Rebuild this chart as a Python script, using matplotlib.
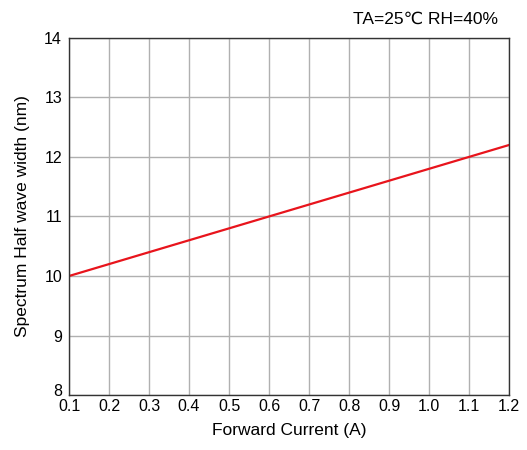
import matplotlib
matplotlib.use("Agg")
import matplotlib.pyplot as plt
import matplotlib.transforms as mtransforms

plt.rcParams['font.family'] = ['Liberation Sans', 'DejaVu Sans']

# forward current (A) vs spectrum half wave width (nm)
current = [0.1, 0.6, 1.1, 1.2]
width = [10.0, 11.0, 12.0, 12.2]

xticks = [0.1, 0.2, 0.3, 0.4, 0.5, 0.6, 0.7, 0.8, 0.9, 1.0, 1.1, 1.2]
yticks = [8, 9, 10, 11, 12, 13, 14]

fig = plt.figure(figsize=(5.27, 4.5), dpi=100)
ax = fig.add_axes([0.131, 0.122, 0.835, 0.794])

ax.plot(current, width, color='#e8141c', linewidth=1.6)

ax.set_xlim(0.1, 1.2)
ax.set_ylim(8, 14)
ax.set_xticks(xticks)
ax.set_xticklabels(["%.1f" % t for t in xticks])
ax.set_yticks(yticks)
ax.grid(True, color='#b0b0b0', linewidth=1.0)
ax.tick_params(length=0, labelsize=11.5)
ax.tick_params(axis='x', pad=3)
ax.tick_params(axis='y', pad=5)
for s in ax.spines.values():
    s.set_color('#333333')
    s.set_linewidth(1.0)

# lift the bottom y label a little so it clears "0.1"
lbl = ax.get_yticklabels()[0]
lbl.set_transform(lbl.get_transform() + mtransforms.ScaledTranslation(0, 4 / 72, fig.dpi_scale_trans))

ax.set_xlabel("Forward Current (A)", fontsize=12.5, labelpad=6)
ax.set_ylabel("Spectrum Half wave width (nm)", fontsize=12.5, labelpad=10)
fig.text(0.945, 0.957, "TA=25℃ RH=40%", ha='right', va='center', fontsize=12.5)

fig.savefig("out.png", dpi=100)
